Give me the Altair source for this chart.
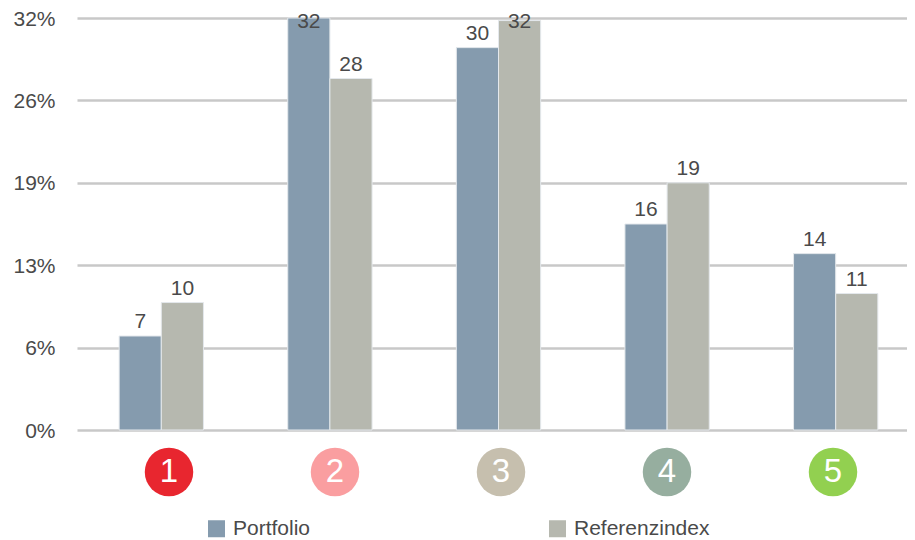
import altair as alt
import pandas as pd

categories = ["1", "2", "3", "4", "5"]
portfolio = [7.3, 32.0, 29.7, 16.0, 13.7]
referenz = [9.9, 27.3, 31.8, 19.2, 10.6]
portfolio_labels = ["7", "32", "30", "16", "14"]
referenz_labels = ["10", "28", "32", "19", "11"]
circle_colors = ["#e8262f", "#fa9ea0", "#c6bfae", "#96ae9f", "#92d050"]
ticks = [0, 6.4, 12.8, 19.2, 25.6, 32]
series = ["Portfolio", "Referenzindex"]
series_colors = ["#859bae", "#b6b8af"]

FONT = "Liberation Sans"
TEXT = "#4a4a4a"
FS = 21

rows = []
for name, vals, labs in [(series[0], portfolio, portfolio_labels), (series[1], referenz, referenz_labels)]:
    for c, v, l in zip(categories, vals, labs):
        rows.append({"cat": c, "series": name, "value": v, "label": l})
df = pd.DataFrame(rows)
cdf = pd.DataFrame({"cat": categories, "fill": circle_colors})

xscale = alt.Scale(domain=categories, range=[1, 844], paddingInner=0.5, paddingOuter=0.25)
x = alt.X("cat:N", scale=xscale, axis=None)
xc = alt.X("cat:N", scale=alt.Scale(domain=categories, range=[93, 757], padding=0), axis=None)
xoff = alt.XOffset("series:N", sort=series, scale=alt.Scale(domain=series, paddingInner=0, paddingOuter=0))
yscale = alt.Scale(domain=[0, 32], nice=False)
y = alt.Y(
    "value:Q",
    scale=yscale,
    axis=alt.Axis(
        title=None, values=ticks, domain=False, ticks=False, labelPadding=21, labelOffset=1,
        labelExpr="format(datum.value,'.0f')+'%'", labelFontSize=FS, labelColor=TEXT, labelFont=FONT,
        grid=True, gridColor="#c8c8c8", gridWidth=2.5,
    ),
)

bars = alt.Chart(df).mark_bar(stroke="#e4e8ec", strokeWidth=1).encode(
    x=x, xOffset=xoff, y=y,
    color=alt.Color(
        "series:N",
        sort=series,
        scale=alt.Scale(domain=series, range=series_colors),
        legend=alt.Legend(
            title=None, orient="none", legendX=130, legendY=500, direction="horizontal",
            symbolType="square", symbolSize=289, symbolStrokeWidth=0, columnPadding=236,
            labelFontSize=FS, labelColor=TEXT, labelFont=FONT, labelOffset=6, labelLimit=300,
        ),
    ),
)
bar_labels = (
    alt.Chart(df)
    .transform_calculate(pos="min(datum.value, 30.6)")
    .mark_text(baseline="bottom", dy=-4, fontSize=FS, color=TEXT, font=FONT)
    .encode(x=x, xOffset=xoff, y=alt.Y("pos:Q", scale=yscale, title=None), text="label:N")
)

circles = alt.Chart(cdf).mark_circle(size=2352, opacity=1).encode(
    x=xc, y=alt.value(454), fill=alt.Fill("fill:N", scale=None)
)
circle_text = alt.Chart(cdf).mark_text(
    fontSize=33, color="white", font=FONT, baseline="middle", align="center"
).encode(x=xc, y=alt.value(454), text="cat:N")

chart = (
    alt.layer(bars, bar_labels, alt.layer(circles, circle_text))
    .resolve_scale(x="independent")
    .properties(
        width=831, height=412,
        padding={"left": 68, "top": 10, "right": 0, "bottom": 108},
        autosize=alt.AutoSizeParams(type="none"),
    )
    .configure_view(stroke=None)
)
chart.save("out.html", embed_options={"renderer": "svg", "actions": False})
